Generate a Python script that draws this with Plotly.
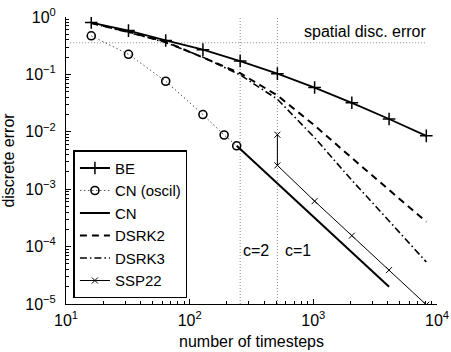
import plotly.graph_objects as go

# ---- data ----
steps_be = [16, 32, 64, 128, 256, 512, 1024, 2048, 4096, 8192]
err_be = [0.80, 0.58, 0.39, 0.27, 0.171, 0.103, 0.059, 0.032, 0.0167, 0.0085]

steps_cn_osc = [16, 32, 64, 128, 190, 240]
err_cn_osc = [0.47, 0.224, 0.076, 0.020, 0.0088, 0.0057]

steps_cn = [240, 512, 1024, 2048, 4096]
err_cn = [0.0057, 0.00125, 3.2e-4, 8.0e-5, 2.0e-5]

steps_dsrk = [16, 32, 64, 128, 256, 512, 1024, 2048, 4096, 8192]
err_dsrk2 = [0.79, 0.55, 0.37, 0.20, 0.105, 0.043, 0.0129, 0.0035, 9.7e-4, 2.7e-4]
err_dsrk3 = [0.78, 0.54, 0.36, 0.20, 0.098, 0.037, 0.0079, 0.00143, 2.8e-4, 5.4e-5]

steps_ssp = [512, 512, 1024, 2048, 4096, 8192]
err_ssp = [0.0089, 0.0026, 6.2e-4, 1.55e-4, 3.9e-5, 9.7e-6]

spatial_err = 0.356
spatial_steps = [10.8, 8000]
c_steps = [256, 512]   # c=2, c=1
err_span = [1e-5, 1.0]

x_tickvals = [10, 100, 1000, 10000]
x_ticktext = ["10<sup>1</sup>", "10<sup>2</sup>", "10<sup>3</sup>", "10<sup>4</sup>"]
y_tickvals = [1e-5, 1e-4, 1e-3, 1e-2, 1e-1, 1]
y_ticktext = ["10<sup>\u22125</sup>", "10<sup>\u22124</sup>", "10<sup>\u22123</sup>",
              "10<sup>\u22122</sup>", "10<sup>\u22121</sup>", "10<sup>0</sup>"]

FONT = "Liberation Sans, Arial, sans-serif"
GRAY = "#8a8a8a"

fig = go.Figure()

# reference dotted lines
fig.add_trace(go.Scatter(x=spatial_steps, y=[spatial_err, spatial_err], mode="lines",
                         line=dict(color=GRAY, width=1, dash="1px,2px"),
                         showlegend=False, hoverinfo="skip"))
for c in c_steps:
    fig.add_trace(go.Scatter(x=[c, c], y=err_span, mode="lines",
                             line=dict(color=GRAY, width=1, dash="1px,2px"),
                             showlegend=False, hoverinfo="skip"))

fig.add_trace(go.Scatter(x=steps_be, y=err_be, name="BE", mode="lines+markers",
                         line=dict(color="black", width=1.8),
                         marker=dict(symbol="cross-thin", size=9,
                                     line=dict(color="black", width=1.5))))
fig.add_trace(go.Scatter(x=steps_cn_osc, y=err_cn_osc, name="CN (oscil)", mode="lines+markers",
                         line=dict(color="#555555", width=1, dash="1.5px,2.5px"),
                         marker=dict(symbol="circle-open", size=8, color="black",
                                     line=dict(color="black", width=1.6))))
fig.add_trace(go.Scatter(x=steps_cn, y=err_cn, name="CN", mode="lines",
                         line=dict(color="black", width=2)))
fig.add_trace(go.Scatter(x=steps_dsrk, y=err_dsrk2, name="DSRK2", mode="lines",
                         line=dict(color="black", width=2, dash="7px,5px")))
fig.add_trace(go.Scatter(x=steps_dsrk, y=err_dsrk3, name="DSRK3", mode="lines",
                         line=dict(color="black", width=1.6, dash="7px,3px,1.5px,3px")))
fig.add_trace(go.Scatter(x=steps_ssp, y=err_ssp, name="SSP22", mode="lines+markers",
                         line=dict(color="black", width=1),
                         marker=dict(symbol="x-thin", size=6,
                                     line=dict(color="black", width=1))))

minor_x = [m * 10 ** e for e in range(1, 4) for m in range(2, 10)]
minor_y = [m * 10.0 ** e for e in range(-5, 0) for m in range(2, 10)]

axis_common = dict(showline=True, linecolor="black", linewidth=1, mirror=False,
                   showgrid=False, zeroline=False, ticks="inside", ticklen=5,
                   tickwidth=1, tickcolor="black", automargin=False,
                   tickfont=dict(family=FONT, size=16, color="black"))

fig.update_xaxes(type="log", range=[1, 4], tickmode="array",
                 tickvals=x_tickvals, ticktext=x_ticktext, ticklabelstandoff=2,
                 minor=dict(ticks="inside", ticklen=3, tickcolor="black",
                            tickmode="array", tickvals=minor_x, showgrid=False),
                 **axis_common)
fig.update_yaxes(type="log", range=[-5, 0], tickmode="array",
                 tickvals=y_tickvals, ticktext=y_ticktext, ticklabelstandoff=6,
                 minor=dict(ticks="inside", ticklen=3, tickcolor="black",
                            tickmode="array", tickvals=minor_y, showgrid=False),
                 **axis_common)

fig.update_layout(
    width=451, height=352,
    margin=dict(l=66, r=13.5, t=17, b=48, pad=0, autoexpand=False),
    paper_bgcolor="white", plot_bgcolor="white",
    font=dict(family=FONT, size=16, color="black"),
    legend=dict(x=0.02, y=0.02, xanchor="left", yanchor="bottom",
                bgcolor="white", bordercolor="black", borderwidth=1.5,
                font=dict(family=FONT, size=15, color="black"),
                tracegroupgap=0, itemwidth=30),
    annotations=[
        dict(text="spatial disc. error", xref="paper", yref="paper", x=0.975, y=0.948,
             xanchor="right", yanchor="middle", showarrow=False,
             font=dict(family=FONT, size=16)),
        dict(text="c=2", xref="paper", yref="paper", x=0.472, y=0.188,
             xanchor="left", yanchor="middle", showarrow=False,
             font=dict(family=FONT, size=16)),
        dict(text="c=1", xref="paper", yref="paper", x=0.584, y=0.188,
             xanchor="left", yanchor="middle", showarrow=False,
             font=dict(family=FONT, size=16)),
        dict(text="number of timesteps", xref="paper", yref="paper", x=0.5, y=-0.129,
             xanchor="center", yanchor="middle", showarrow=False,
             font=dict(family=FONT, size=16)),
        dict(text="discrete error", xref="paper", yref="paper", x=-0.156, y=0.5,
             xanchor="center", yanchor="middle", showarrow=False, textangle=-90,
             font=dict(family=FONT, size=16)),
    ],
)

fig.write_html("out.html", config={"displayModeBar": False},
               post_script="document.body.style.margin='0';"
                           "document.body.style.overflow='hidden';")
